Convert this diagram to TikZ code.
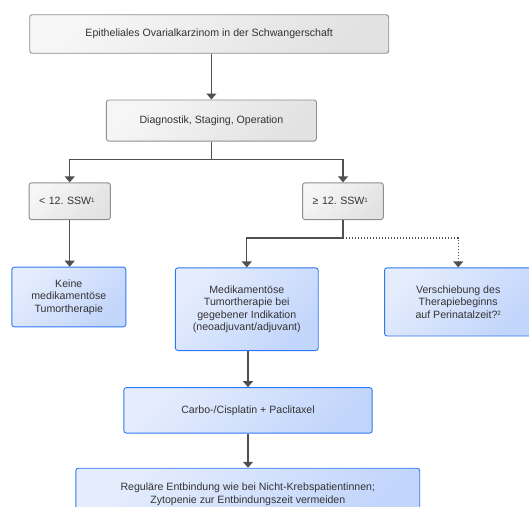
\documentclass[tikz,border=0pt]{standalone}
\usepackage{fontspec}
\setmainfont{Liberation Sans}
\usetikzlibrary{arrows.meta,calc}
\frenchspacing

\definecolor{txt}{HTML}{333333}
\definecolor{greyedge}{HTML}{8E8E8E}
\definecolor{greylight}{HTML}{F6F6F6}
\definecolor{greydark}{HTML}{E2E2E2}
\definecolor{blueedge}{HTML}{2F78F4}
\definecolor{bluelight}{HTML}{E5EDFD}
\definecolor{bluedark}{HTML}{C2D5FB}
\definecolor{wire}{HTML}{505050}

% small raised footnote marks
\newcommand{\fnmark}[1]{\raisebox{2.8pt}{\fontsize{6.2}{6.2}\selectfont #1}}

\tikzset{
  box/.style={rounded corners=2.5pt, inner sep=0pt, align=center, text=txt,
    font=\fontsize{10.6}{12.4}\selectfont, line width=0.9pt},
  greybox/.style={box, draw=greyedge, top color=greylight, bottom color=greydark, shading angle=45},
  bluebox/.style={box, draw=blueedge, top color=bluelight, bottom color=bluedark, shading angle=45},
  link/.style={draw=wire, line width=1.2pt, -{Triangle[width=10pt,length=6pt]}},
  dotlink/.style={link, line width=1.3pt, dash pattern=on 1.4pt off 1.6pt},
}

\begin{document}
\begin{tikzpicture}[x=1pt,y=-1pt]
  \useasboundingbox (0,0) rectangle (529,506);
  \clip (0,0) rectangle (529,506);

  % decision chain
  \node[greybox, minimum width=359pt, minimum height=38.5pt] (top) at (209.2,34)
    {Epitheliales Ovarialkarzinom in der Schwangerschaft};
  \node[greybox, minimum width=210.2pt, minimum height=41.1pt] (diag) at (211.4,120.5)
    {Diagnostik, Staging, Operation};
  \node[greybox, minimum width=81.3pt, minimum height=36.8pt, text width=61.3pt, align=left] (early) at (69.7,201.2)
    {< 12. SSW\fnmark{1}};
  \node[greybox, minimum width=80.7pt, minimum height=36.8pt, text width=60.7pt, align=left] (late) at (343,201.2)
    {≥ 12. SSW\fnmark{1}};

  % therapy boxes
  \node[bluebox, minimum width=114pt, minimum height=59.7pt] (none) at (68.8,297)
    {Keine\\medikamentöse\\Tumortherapie};
  \node[bluebox, minimum width=142.8pt, minimum height=82.7pt] (drug) at (246.8,309.2)
    {Medikamentöse\\Tumortherapie bei\\gegebener Indikation\\(neoadjuvant/adjuvant)};
  \node[bluebox, minimum width=147.2pt, minimum height=68.2pt] (delay) at (458.2,301.9)
    {Verschiebung des\\Therapiebeginns\\auf Perinatalzeit?\fnmark{2}};
  \node[bluebox, minimum width=248.3pt, minimum height=45.5pt] (chemo) at (248,410.4)
    {Carbo-/Cisplatin + Paclitaxel};
  \node[bluebox, minimum width=343.8pt, minimum height=52pt] (birth) at (247.8,494.2)
    {Reguläre Entbindung wie bei Nicht-Krebspatientinnen;\\Zytopenie zur Entbindungszeit vermeiden};

  % connectors
  \draw[link] (diag.north |- top.south) -- (diag.north);
  \coordinate (split1) at ($(diag.south)+(0,17.6)$);
  \draw[link] (diag.south) -- (split1) -| (early.north);
  \draw[link] (split1) -| (late.north);
  \draw[link] (early.south) -- (early.south |- none.north);
  \coordinate (split2) at ($(late.south)+(0,17.9)$);
  \draw[link] (late.south) -- (split2) -| (drug.north);
  \draw[dotlink, -] (late.south) -- (split2);
  \draw[dotlink] (split2) -| (delay.north);
  \draw[link] (chemo.north |- drug.south) -- (chemo.north);
  \draw[link] (chemo.south) -- (chemo.south |- birth.north);
\end{tikzpicture}
\end{document}
